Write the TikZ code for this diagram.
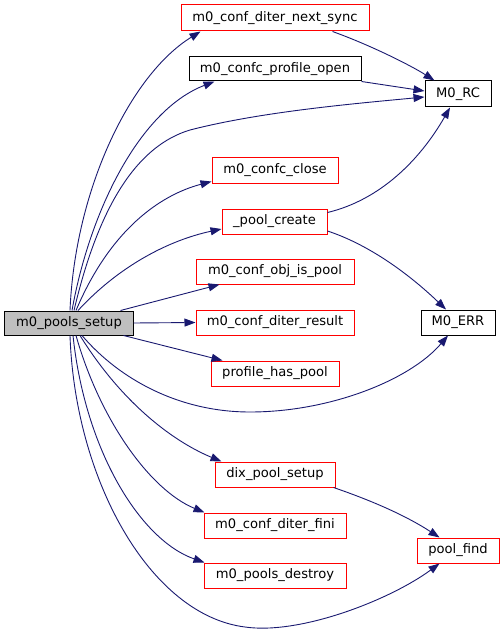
\documentclass[tikz,border=0pt]{standalone}
\usepackage{fontspec}
\setmainfont{DejaVu Sans}
\usetikzlibrary{arrows.meta}
\definecolor{edgeblue}{HTML}{191970}
\definecolor{boxred}{HTML}{FF0000}
\definecolor{mainfill}{HTML}{BFBFBF}
\tikzset{
  fn/.style={draw=boxred, line width=1bp, fill=white, inner sep=0pt, minimum height=25bp,
    font=\fontsize{13.1bp}{15bp}\selectfont},
  fnblack/.style={fn, draw=black},
  mainfn/.style={fn, draw=black, fill=mainfill},
  call/.style={draw=edgeblue, line width=0.9bp, -{Triangle[length=11bp,width=8bp]}, color=edgeblue}
}
\begin{document}
\begin{tikzpicture}[x=1bp,y=-1bp]
\useasboundingbox (0,0) rectangle (504,633);
\node[mainfn, minimum width=128bp, minimum height=24bp] (s) at (69,323) {m0\_pools\_setup};
\node[fn, minimum width=188bp, minimum height=26bp] (ns) at (275,18) {m0\_conf\_diter\_next\_sync};
\node[fnblack, minimum width=172bp, minimum height=24bp] (po) at (275,69) {m0\_confc\_profile\_open};
\node[fnblack, minimum width=66bp, minimum height=26bp] (rc) at (458,94) {M0\_RC};
\node[fn, minimum width=126bp] (cc) at (275,170.5) {m0\_confc\_close};
\node[fn, minimum width=105bp] (pc) at (274.5,221.5) {\_pool\_create};
\node[fn, minimum width=158bp] (oip) at (275,271.5) {m0\_conf\_obj\_is\_pool};
\node[fn, minimum width=158bp] (dr) at (275,322.5) {m0\_conf\_diter\_result};
\node[fn, minimum width=128bp] (hp) at (275,373.5) {profile\_has\_pool};
\node[fnblack, minimum width=74bp] (err) at (458,322.5) {M0\_ERR};
\node[fn, minimum width=120bp] (dix) at (275,474.5) {dix\_pool\_setup};
\node[fn, minimum width=142bp] (fini) at (275,525.5) {m0\_conf\_diter\_fini};
\node[fn, minimum width=142bp] (pd) at (275,575.5) {m0\_pools\_destroy};
\node[fn, minimum width=82bp] (pf) at (458,550.5) {pool\_find};

% from m0_pools_setup
\draw[call] ([xshift=1bp]s.north) .. controls (75,190) and (130,75) .. ([xshift=20bp]ns.south west);
\draw[call] ([xshift=3bp]s.north) .. controls (90,210) and (140,110) .. ([xshift=26bp]po.south west);
\draw[call] ([xshift=5bp]s.north) .. controls (100,200) and (140,145) .. (190,130)
  .. controls (260,112) and (350,104) .. ([yshift=-3bp]rc.west);
\draw[call] ([xshift=7bp]s.north) .. controls (110,230) and (160,195) .. ([yshift=2bp]cc.south west);
\draw[call] ([xshift=9bp]s.north) .. controls (120,265) and (170,240) .. ([yshift=-7.5bp]pc.west);
\draw[call] ([xshift=-13bp]s.north east) -- ([xshift=24bp]oip.south west);
\draw[call] (s.east) -- (dr.west);
\draw[call] ([xshift=-10bp]s.south east) -- ([xshift=12bp]hp.north west);
\draw[call] ([xshift=13bp]s.south) .. controls (120,380) and (180,412) .. (250,412)
  .. controls (330,412) and (410,380) .. ([xshift=-10bp]err.south);
\draw[call] ([xshift=11bp]s.south) .. controls (120,400) and (170,440) .. ([xshift=7bp]dix.north west);
\draw[call] ([xshift=7bp]s.south) .. controls (100,420) and (150,490) .. ([xshift=1bp]fini.north west);
\draw[call] ([xshift=4bp]s.south) .. controls (85,450) and (140,540) .. ([xshift=1bp]pd.north west);
\draw[call] ([xshift=1bp]s.south) .. controls (75,480) and (150,615) .. (245,627)
  .. controls (300,635) and (390,600) .. ([xshift=23bp]pf.south west);

% second level
\draw[call] ([xshift=-37bp]ns.south east) .. controls (370,45) and (410,65) .. ([xshift=10bp]rc.north west);
\draw[call] (po.south east) -- ([yshift=3bp]rc.west);
\draw[call] ([yshift=9bp]pc.east) .. controls (380,200) and (420,160) .. ([xshift=-8bp]rc.south);
\draw[call] ([yshift=-9.5bp]pc.east) .. controls (370,245) and (410,275) .. ([xshift=-12bp]err.north);
\draw[call] ([xshift=-2bp]dix.south east) .. controls (370,500) and (405,515) .. ([xshift=23bp]pf.north west);
\end{tikzpicture}
\end{document}
